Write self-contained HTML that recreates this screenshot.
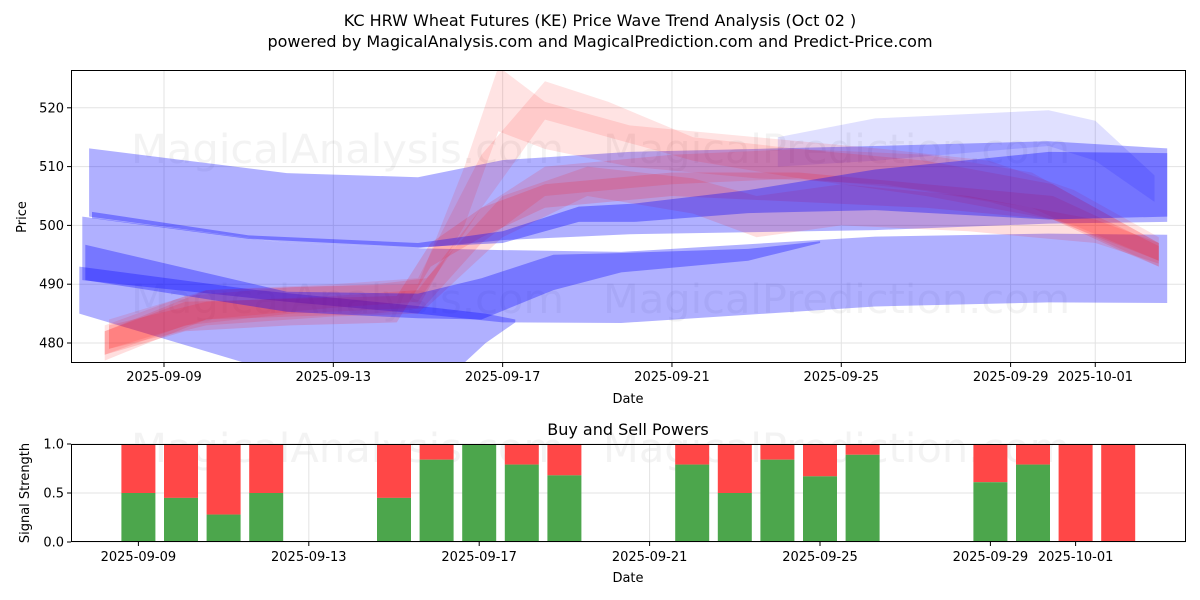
<!DOCTYPE html>
<html><head><meta charset="utf-8"><style>
body{margin:0;background:#fff;width:1200px;height:600px;overflow:hidden}
svg{display:block;font-family:"DejaVu Sans","Liberation Sans",sans-serif}
</style></head><body>
<svg id="chart" width="1200" height="600" xmlns="http://www.w3.org/2000/svg">
<text x="600" y="26" text-anchor="middle" font-size="16">KC HRW Wheat Futures (KE) Price Wave Trend Analysis (Oct 02 )</text>
<text x="600" y="47" text-anchor="middle" font-size="16">powered by MagicalAnalysis.com and MagicalPrediction.com and Predict-Price.com</text>
</svg>
<script>
// ---- data: top chart (days relative to 2025-09-09) ----
const priceTicks = [480, 490, 500, 510, 520];
const topDateTicks = [0, 4, 8, 12, 16, 20, 22];
const topDateLabels = ["2025-09-09","2025-09-13","2025-09-17","2025-09-21","2025-09-25","2025-09-29","2025-10-01"];
const bandADays = [-1.77, 2.9, 6.0, 8.0, 11, 16.8, 20.9, 23.7];
const bandAHi = [513.1, 508.9, 508.2, 511.1, 512.5, 513.5, 514.3, 513.1];
const bandALo = [501.5, 497, 496.1, 497.5, 498.5, 499.2, 500.3, 500.6];
const bandEDays = [-1.93, 2.9, 6.0, 8.0, 10.8, 16.8, 20.9, 23.7];
const bandEHi = [501.5, 497, 496.1, 495.8, 495.5, 498.1, 498.6, 498.4];
const bandELo = [490.7, 487, 485, 483.5, 483.4, 486.2, 486.9, 486.8];
const bandFDays = [-2, 2.2, 6.4, 7.6, 8.3];
const bandFHi = [493, 489, 486, 485, 484];
const bandFLo = [485, 476, 472, 480, 483.5];
const bandLDays = [14.5, 16.8, 20.9, 22, 23.4];
const bandLHi = [515, 518.2, 519.6, 517.8, 508.5];
const bandLLo = [510, 511, 513.5, 511, 504];
const bandCDays = [-1.86, 2.9, 6.0, 7.5, 9.2, 10.8, 13.8, 15.5];
const bandCHi = [496.7, 488.7, 488.4, 491, 495, 495.3, 496, 497.3];
const bandCLo = [490.7, 485.3, 484.2, 484, 489, 492, 494, 497];
const bandGDays = [-1.7, 2.0, 6.0, 8.0, 9.8, 11.1, 13.8, 16.8, 20.9, 23.7];
const bandGHi = [502.3, 498.3, 497, 499, 503.2, 503.7, 506, 509.5, 512.5, 512.3];
const bandGLo = [501.2, 497.7, 496.3, 497, 500.6, 500.6, 502.1, 502.6, 501.0, 501.5];
const red1Days = [-1.4, 0.5, 3, 6.0, 7.1, 7.9, 9.0, 11, 14, 17, 19.5, 21.5, 23.5];
const red1Hi = [483, 488, 489.5, 490, 510, 527, 521, 517, 515, 513, 511, 506, 498];
const red1Lo = [478, 483, 485, 486, 500, 516, 513, 510, 508, 507, 504, 500, 494];
const red2Days = [-1.3, 1, 4, 6, 7.5, 9, 10.5, 12.5, 15, 18, 20.5, 22, 23.5];
const red2Hi = [484, 489, 490, 491, 512, 524.5, 521, 515, 513, 512, 509, 503, 497];
const red2Lo = [479, 484, 486, 487, 503, 518, 515, 511, 508, 506, 503, 498, 493];
const red3Days = [-1.3, 1, 4, 6, 7.5, 9, 12, 15, 18, 21, 23.5];
const red3Hi = [483, 487, 488, 489, 503, 510, 512, 513, 511, 507, 497];
const red3Lo = [479, 483, 484.5, 485, 497, 505, 507, 508, 505, 501, 494];
const red4Days = [-1.4, 1, 5, 6.2, 8, 10, 12.5, 14, 16, 19, 20.5, 22, 23.5];
const red4Hi = [482, 489, 490, 491, 505, 510, 508, 505, 507, 505, 503, 501, 497];
const red4Lo = [477, 484, 485, 486, 498, 505, 502, 498, 500, 499, 498, 497, 493.5];
const red5Days = [-1.4, 0.5, 3, 5.5, 6.3, 7.5, 9, 12, 15, 18, 21, 22.5, 23.5];
const red5Hi = [482, 487, 487.5, 488, 497, 503, 507, 509, 509, 507, 505, 500, 496.5];
const red5Lo = [478, 482, 483, 483.5, 493, 498, 503, 505, 504, 503, 501, 496, 493];
// ---- data: bottom chart ----
const barDays = [0,1,2,3,6,7,8,9,10,13,14,15,16,17,20,21,22,23];
const buyPower = [0.5,0.45,0.28,0.5,0.45,0.84,1.0,0.79,0.68,0.79,0.5,0.84,0.67,0.89,0.61,0.79,0,0];
const signalTicks = [0, 0.5, 1.0];

const NS = "http://www.w3.org/2000/svg";
const svg = document.getElementById('chart');
function el(tag, attrs, parent){const e=document.createElementNS(NS,tag);for(const k in attrs)e.setAttribute(k,attrs[k]);(parent||svg).appendChild(e);return e;}

const T = {l:71, r:1186, t:70, b:363};
const xT = d => 164 + d*42.33;
const yT = v => 343 - (v-480)*5.88;
const B = {l:71, r:1186, t:444, b:542};
const xB = d => 138.4 + d*42.6;
const yB = s => B.b - s*(B.b-B.t);

const defs = el('defs',{});
const cp = el('clipPath',{id:'clipT'},defs);
el('rect',{x:T.l,y:T.t,width:T.r-T.l,height:T.b-T.t},cp);

priceTicks.forEach(v=>{
  const g=el('line',{x1:T.l,x2:T.r,y1:yT(v),y2:yT(v),stroke:'#e3e3e3','stroke-width':1});
  
  
});
topDateTicks.forEach(d=>{
  const g=el('line',{x1:xT(d),x2:xT(d),y1:T.t,y2:T.b,stroke:'#e3e3e3','stroke-width':1});
  
  
});

function wm(x,y,txt,len){
  const t=el('text',{x:x,y:y,'font-size':40,fill:'rgba(120,120,120,0.09)',textLength:len,lengthAdjust:'spacingAndGlyphs'});
  t.textContent=txt;
  
  
}
wm(131,163,'MagicalAnalysis.com',433);wm(603,163,'MagicalPrediction.com',467);
wm(131,313,'MagicalAnalysis.com',433);wm(603,313,'MagicalPrediction.com',467);
wm(131,462,'MagicalAnalysis.com',433);wm(603,462,'MagicalPrediction.com',467);

const gBands = el('g',{'clip-path':'url(#clipT)'});


function band(days,hi,lo,color,op,name){
  let pts=[];
  for(let i=0;i<days.length;i++)pts.push(xT(days[i]).toFixed(1)+','+yT(hi[i]).toFixed(1));
  for(let i=days.length-1;i>=0;i--)pts.push(xT(days[i]).toFixed(1)+','+yT(lo[i]).toFixed(1));
  const p=el('polygon',{points:pts.join(' '),fill:color,'fill-opacity':op},gBands);
  
  
}
band(bandADays,bandAHi,bandALo,'#0000ff',0.31,'blue-band-upper');
band(bandEDays,bandEHi,bandELo,'#0000ff',0.31,'blue-band-lower');
band(bandFDays,bandFHi,bandFLo,'#0000ff',0.31,'blue-band-low-left');
band(bandLDays,bandLHi,bandLLo,'#0000ff',0.12,'blue-band-faint');
band(red1Days,red1Hi,red1Lo,'#ff0000',0.11,'red-band-1');
band(red2Days,red2Hi,red2Lo,'#ff0000',0.11,'red-band-2');
band(red3Days,red3Hi,red3Lo,'#ff0000',0.13,'red-band-3');
band(red4Days,red4Hi,red4Lo,'#ff0000',0.13,'red-band-4');
band(red5Days,red5Hi,red5Lo,'#ff0000',0.15,'red-band-5');
band(bandCDays,bandCHi,bandCLo,'#0000ff',0.32,'blue-band-mid');
band(bandGDays,bandGHi,bandGLo,'#0000ff',0.34,'blue-band-dark');

const f1=el('rect',{x:T.l+0.5,y:T.t+0.5,width:T.r-T.l-1,height:T.b-T.t-1,fill:'none',stroke:'#000','stroke-width':1});


priceTicks.forEach(v=>{
  el('line',{x1:T.l-4,x2:T.l,y1:yT(v),y2:yT(v),stroke:'#000'});
  const t=el('text',{x:T.l-7,y:yT(v)+4.5,'text-anchor':'end','font-size':13});
  t.textContent=v;
  
  
});
topDateTicks.forEach((d,i)=>{
  el('line',{x1:xT(d),x2:xT(d),y1:T.b,y2:T.b+4,stroke:'#000'});
  const t=el('text',{x:xT(d),y:T.b+18,'text-anchor':'middle','font-size':13});
  t.textContent=topDateLabels[i];
  
  
});
let t1=el('text',{x:628,y:403,'text-anchor':'middle','font-size':13});t1.textContent='Date';


let t2=el('text',{x:26,y:217,'text-anchor':'middle','font-size':13,transform:'rotate(-90 26 217)'});t2.textContent='Price';



let t3=el('text',{x:628,y:435,'text-anchor':'middle','font-size':16});t3.textContent='Buy and Sell Powers';


signalTicks.forEach(s=>{
  const g=el('line',{x1:B.l,x2:B.r,y1:yB(s),y2:yB(s),stroke:'#e3e3e3'});
  
  
});
topDateTicks.forEach(d=>{
  const g=el('line',{x1:xB(d),x2:xB(d),y1:B.t,y2:B.b,stroke:'#e3e3e3'});
  
  
});
const bw=34;
barDays.forEach((d,i)=>{
  const x=xB(d)-bw/2;
  const r=el('rect',{x:x,y:yB(1),width:bw,height:yB(buyPower[i])-yB(1),fill:'#ff4747'});
  
  
  const g=el('rect',{x:x,y:yB(buyPower[i]),width:bw,height:B.b-yB(buyPower[i]),fill:'#4ca64c'});
  
  
});
const f2=el('rect',{x:B.l+0.5,y:B.t+0.5,width:B.r-B.l-1,height:B.b-B.t-1,fill:'none',stroke:'#000'});


signalTicks.forEach(s=>{
  el('line',{x1:B.l-4,x2:B.l,y1:yB(s),y2:yB(s),stroke:'#000'});
  const t=el('text',{x:B.l-7,y:yB(s)+4.5,'text-anchor':'end','font-size':13});
  t.textContent=s.toFixed(1);
  
  
});
topDateTicks.forEach((d,i)=>{
  el('line',{x1:xB(d),x2:xB(d),y1:B.b,y2:B.b+4,stroke:'#000'});
  const t=el('text',{x:xB(d),y:B.b+19,'text-anchor':'middle','font-size':13});
  t.textContent=topDateLabels[i];
  
  
});
let t4=el('text',{x:628,y:582,'text-anchor':'middle','font-size':13});t4.textContent='Date';


let t5=el('text',{x:29,y:493,'text-anchor':'middle','font-size':13,transform:'rotate(-90 29 493)'});t5.textContent='Signal Strength';


</script>
</body></html>
